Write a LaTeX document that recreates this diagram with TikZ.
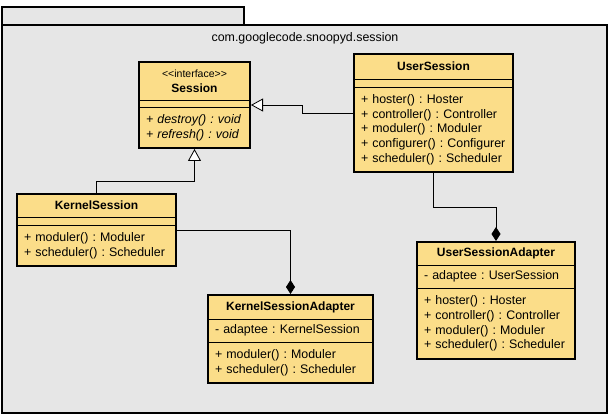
\documentclass[tikz,border=0pt]{standalone}
\usepackage{fontspec}
\setmainfont{Liberation Sans}[Ligatures=TeXOff]
\usetikzlibrary{arrows.meta, positioning, fit}
\definecolor{classfill}{RGB}{251,221,137}
\definecolor{pkgfill}{RGB}{230,230,230}
\frenchspacing

\begin{document}
\begin{tikzpicture}[
  x=1pt, y=1pt,
  font=\fontsize{12.4}{14.7}\selectfont,
  pkg/.style={draw, line width=2pt, fill=pkgfill},
  part/.style={draw, line width=0.8pt, fill=classfill, outer sep=0pt, inner xsep=7pt, inner ysep=0pt, align=left},
  head/.style={part, align=center, font=\fontsize{12}{14.7}\selectfont\bfseries},
  umlclass/.style={draw, line width=2pt, inner sep=0pt},
  gen/.style={line width=0.8pt, -{Triangle[open, fill=white, length=12pt, width=13pt]}},
  comp/.style={line width=0.8pt, -{Diamond[length=14pt, width=9pt]}}
]
\useasboundingbox (0,0) rectangle (614,416);

% Package
\draw[pkg] (2,409) rectangle (244,391);
\draw[pkg] (2,391) rectangle (607,3);
\node (pkgname) at (305,378) {com.googlecode.snoopyd.session};

% Session
\node[head, text width=97pt, minimum height=38pt, anchor=north west] (sess-t) at (139,354) {{\fontsize{10.5}{12}\selectfont\mdseries <<interface>>}\\Session};
\node[part, text width=97pt, minimum height=7pt, below=0pt of sess-t] (sess-a) {};
\node[part, text width=97pt, minimum height=41pt, below=0pt of sess-a, font=\fontsize{12.4}{14.7}\selectfont\itshape] (sess-m) {+ destroy() : void\\+ refresh() : void};
\node[umlclass, fit=(sess-t)(sess-m)] (sess) {};

% UserSession
\node[head, text width=145pt, minimum height=25pt, anchor=north west] (usess-t) at (354,362) {UserSession};
\node[part, text width=145pt, minimum height=8pt, below=0pt of usess-t] (usess-a) {};
\node[part, text width=145pt, minimum height=85pt, below=0pt of usess-a] (usess-m) {+ hoster() : Hoster\\+ controller() : Controller\\+ moduler() : Moduler\\+ configurer() : Configurer\\+ scheduler() : Scheduler};
\node[umlclass, fit=(usess-t)(usess-m)] (usess) {};

% KernelSession
\node[head, text width=145pt, minimum height=23pt, anchor=north west] (ksess-t) at (17,222) {KernelSession};
\node[part, text width=145pt, minimum height=8pt, below=0pt of ksess-t] (ksess-a) {};
\node[part, text width=145pt, minimum height=41pt, below=0pt of ksess-a] (ksess-m) {+ moduler() : Moduler\\+ scheduler() : Scheduler};
\node[umlclass, fit=(ksess-t)(ksess-m)] (ksess) {};

% KernelSessionAdapter
\node[head, text width=151pt, minimum height=24pt, anchor=north west] (ksa-t) at (208,121) {KernelSessionAdapter};
\node[part, text width=151pt, minimum height=23pt, below=0pt of ksa-t] (ksa-a) {- adaptee : KernelSession};
\node[part, text width=151pt, minimum height=41pt, below=0pt of ksa-a] (ksa-m) {+ moduler() : Moduler\\+ scheduler() : Scheduler};
\node[umlclass, fit=(ksa-t)(ksa-m)] (ksa) {};

% UserSessionAdapter
\node[head, text width=144pt, minimum height=23pt, anchor=north west] (usa-t) at (417,174) {UserSessionAdapter};
\node[part, text width=144pt, minimum height=23pt, below=0pt of usa-t] (usa-a) {- adaptee : UserSession};
\node[part, text width=144pt, minimum height=71pt, below=0pt of usa-a] (usa-m) {+ hoster() : Hoster\\+ controller() : Controller\\+ moduler() : Moduler\\+ scheduler() : Scheduler};
\node[umlclass, fit=(usa-t)(usa-m)] (usa) {};

% Generalizations
\draw[gen] (usess.west) -- ++(-51,0) |- (sess.east);
\draw[gen] (ksess.north) -- ++(0,12) -| (sess.south);

% Compositions
\draw[comp] (ksess.east) -| (ksa.north);
\draw[comp] (usess.south) -- ++(0,-34) -| (usa.north);

\end{tikzpicture}
\end{document}
